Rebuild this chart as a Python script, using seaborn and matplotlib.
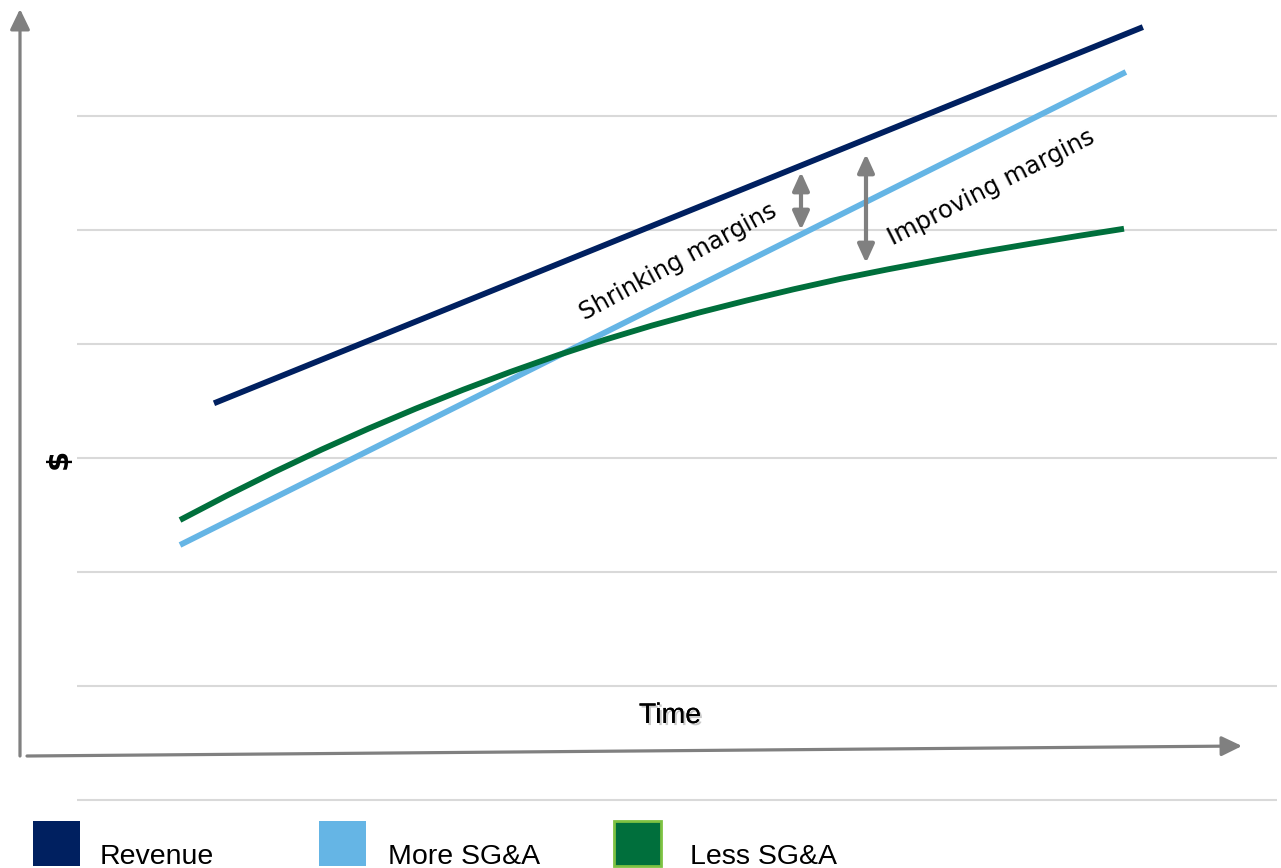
import numpy as np
import pandas as pd
import seaborn as sns
import matplotlib
matplotlib.use("Agg")
import matplotlib.pyplot as plt
from matplotlib.patches import Rectangle, ArrowStyle
import matplotlib.patheffects as pe

# ---- data -------------------------------------------------------------
series_names = ["Revenue", "More SG&A", "Less SG&A"]
series_colors = ["#002060", "#65B5E5", "#006F3C"]

revenue_time = [0.36, 10.20]
revenue_value = [3.48, 6.78]

more_sga_time = [0.0, 10.02]
more_sga_value = [2.237, 6.386]

less_sga_time = [0.0, 0.5, 1.0, 1.5, 2.0, 2.5, 3.0, 3.5, 4.0, 4.5, 5.0,
                 5.5, 6.0, 6.5, 7.0, 7.5, 8.0, 8.5, 9.0, 9.5, 10.0]
less_sga_value = [2.456, 2.672, 2.878, 3.074, 3.259, 3.434, 3.599,
                  3.755, 3.901, 4.037, 4.162, 4.276, 4.381, 4.480,
                  4.572, 4.655, 4.733, 4.808, 4.878, 4.946, 5.011]

grid_levels = [0, 1, 2, 3, 4, 5, 6]

# ---- layout helpers (pixel frame of the 1281x868 canvas) ---------------
W, H = 1281, 868
X0, XS = 180, 94.4     # pixel x of t=0, pixels per time unit
Y0, YS = 800, 114      # pixel y of v=0, pixels per value unit


def tx(px):
    return (px - X0) / XS


def vy(py):
    return (Y0 - py) / YS


sns.set_theme(style="white")
plt.rcParams["font.family"] = ["DejaVu Sans"]

fig = plt.figure(figsize=(W / 100, H / 100), dpi=100)
ax = fig.add_axes([0, 0, 1, 1])
ax.set_xlim(tx(0), tx(W))
ax.set_ylim(vy(H), vy(0))
ax.axis("off")

# gridlines
ax.hlines(grid_levels, tx(77), tx(1277), color="#D9D9D9", lw=1.5, zorder=0)

# series
frames = [
    pd.DataFrame({"t": revenue_time, "v": revenue_value, "series": series_names[0]}),
    pd.DataFrame({"t": more_sga_time, "v": more_sga_value, "series": series_names[1]}),
    pd.DataFrame({"t": less_sga_time, "v": less_sga_value, "series": series_names[2]}),
]
df = pd.concat(frames, ignore_index=True)
sns.lineplot(
    data=df, x="t", y="v", hue="series", hue_order=series_names,
    palette=dict(zip(series_names, series_colors)), linewidth=4.2,
    legend=False, ax=ax, sort=False, solid_capstyle="butt",
    solid_joinstyle="round", zorder=3,
)

gray = "#808080"

# axis arrows
axis_head = ArrowStyle("-|>", head_length=0.62, head_width=0.3)
ax.annotate("", xy=(tx(20), vy(9)), xytext=(tx(20), vy(756)),
            arrowprops=dict(arrowstyle=axis_head, mutation_scale=20,
                            color=gray, lw=2.3, shrinkA=0, shrinkB=0))
ax.annotate("", xy=(tx(1242), vy(746)), xytext=(tx(27), vy(756)),
            arrowprops=dict(arrowstyle=axis_head, mutation_scale=20,
                            color=gray, lw=2.3, shrinkA=0, shrinkB=0))

# margin arrows
gap_head = ArrowStyle("<|-|>", head_length=0.55, head_width=0.25)
for x_px, top_px, bot_px in [(801, 172, 230), (866, 154, 263)]:
    ax.annotate("", xy=(tx(x_px), vy(top_px)), xytext=(tx(x_px), vy(bot_px)),
                arrowprops=dict(arrowstyle=gap_head, mutation_scale=20,
                                color=gray, lw=3, shrinkA=0, shrinkB=0),
                zorder=4)

# annotations
ax.text(tx(678), vy(262), "Shrinking margins", rotation=28.5,
        rotation_mode="anchor", ha="center", va="center",
        fontsize=17.5, color="black", family="DejaVu Sans", zorder=5)
ax.text(tx(991), vy(187), "Improving margins", rotation=27,
        rotation_mode="anchor", ha="center", va="center",
        fontsize=17.5, color="black", family="DejaVu Sans", zorder=5)

# axis labels
ax.text(tx(670), vy(716), "Time", ha="center", va="center", fontsize=20.5,
        family="Liberation Sans", color="black",
        path_effects=[pe.withSimplePatchShadow(offset=(1.5, -1.5),
                                               shadow_rgbFace="#888888",
                                               alpha=0.45),
                      pe.Normal()])
ax.text(tx(59), vy(459), "$", rotation=90, ha="center", va="center",
        fontsize=21, fontweight="bold", family="DejaVu Sans", color="black")

# legend swatches
legend_x = [33, 319, 614]
legend_text_x = [100, 388, 690]
for x_px, tx_px, name, col in zip(legend_x, legend_text_x, series_names, series_colors):
    edge = "#7DC242" if name == "Less SG&A" else col
    rect = Rectangle((x_px / W, 1 - 866 / H), 47 / W, 45 / H,
                     transform=fig.transFigure, facecolor=col,
                     edgecolor=edge, lw=2 if name == "Less SG&A" else 0)
    fig.add_artist(rect)
    fig.text(tx_px / W, 1 - 864 / H, name, ha="left", va="baseline",
             fontsize=20.5, family="Liberation Sans", color="black")

fig.savefig("out.png", dpi=100)
